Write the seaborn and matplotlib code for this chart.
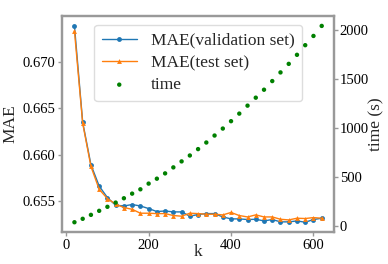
import numpy as np
import pandas as pd
import matplotlib
matplotlib.use("Agg")
import matplotlib.pyplot as plt
import seaborn as sns

sns.set_style("ticks")
plt.rcParams['font.family'] = ['Liberation Serif', 'DejaVu Serif']
plt.rcParams['axes.edgecolor'] = '#999999'
plt.rcParams['axes.linewidth'] = 1.6
plt.rcParams['xtick.color'] = '#999999'
plt.rcParams['ytick.color'] = '#999999'
plt.rcParams['xtick.labelcolor'] = 'black'
plt.rcParams['ytick.labelcolor'] = 'black'

# ==========================================
# data
# ==========================================
k = list(range(20, 621, 20))

mae_val = [0.67385, 0.66350, 0.65893, 0.65664, 0.65540, 0.65457, 0.65450, 0.65465,
           0.65450, 0.65422, 0.65390, 0.65396, 0.65386, 0.65386, 0.65340, 0.65358,
           0.65368, 0.65368, 0.65332, 0.65311, 0.65311, 0.65304, 0.65307, 0.65289,
           0.65304, 0.65279, 0.65279, 0.65289, 0.65275, 0.65304, 0.65318]

mae_test = [0.67332, 0.66339, 0.65875, 0.65628, 0.65529, 0.65470, 0.65433, 0.65414,
            0.65372, 0.65372, 0.65368, 0.65368, 0.65347, 0.65340, 0.65372, 0.65368,
            0.65361, 0.65361, 0.65354, 0.65380, 0.65347, 0.65332, 0.65354, 0.65332,
            0.65332, 0.65307, 0.65300, 0.65318, 0.65315, 0.65325, 0.65318]

time_s = [40, 75, 115, 156, 197, 240, 284, 331, 375, 433, 483, 537, 598, 659, 719,
          784, 851, 922, 993, 1068, 1145, 1226, 1307, 1388, 1476, 1564, 1651, 1743,
          1841, 1935, 2037]

df = pd.DataFrame({'k': k, 'val': mae_val, 'test': mae_test, 'time': time_s})

fig, ax = plt.subplots(figsize=(3.88, 2.64), dpi=100)
fig.subplots_adjust(left=0.160, right=0.861, bottom=0.121, top=0.939)

sns.lineplot(data=df, x='k', y='val', ax=ax, color='#1f77b4', marker='o',
             markersize=3.5, markeredgewidth=0, linewidth=1.0, label='MAE(validation set)')
sns.lineplot(data=df, x='k', y='test', ax=ax, color='#ff7f0e', marker='^',
             markersize=3.5, markeredgewidth=0, linewidth=1.0, label='MAE(test set)')
ax.set_xlabel('k', fontsize=12.5, labelpad=-6)
ax.set_ylabel('MAE', fontsize=12.5, labelpad=3)
ax.set_yticks([0.655, 0.660, 0.665, 0.670])
ax.set_xticks([0, 200, 400, 600])
ax.tick_params(labelsize=10.5, length=3, width=1, pad=2)
ax.margins(x=0.05, y=0.05)

ax2 = ax.twinx()
sns.scatterplot(data=df, x='k', y='time', ax=ax2, color='green', s=10,
                edgecolor='none', label='time')
ax2.set_ylabel('time (s)', fontsize=12.5, labelpad=0)
ax2.set_yticks([0, 500, 1000, 1500, 2000])
ax2.tick_params(labelsize=10.5, length=3, width=1, pad=1)
ax2.margins(y=0.05)

h1, l1 = ax.get_legend_handles_labels()
h2, l2 = ax2.get_legend_handles_labels()
ax2.get_legend().remove()
ax.get_legend().remove()
ax.legend(h1 + h2, l1 + l2, loc='upper center', fontsize=12.5,
          borderpad=0.45, labelspacing=0.35, handlelength=2.0, handletextpad=0.8,
          framealpha=1, edgecolor='#dddddd')

fig.savefig('out.png', dpi=100)
